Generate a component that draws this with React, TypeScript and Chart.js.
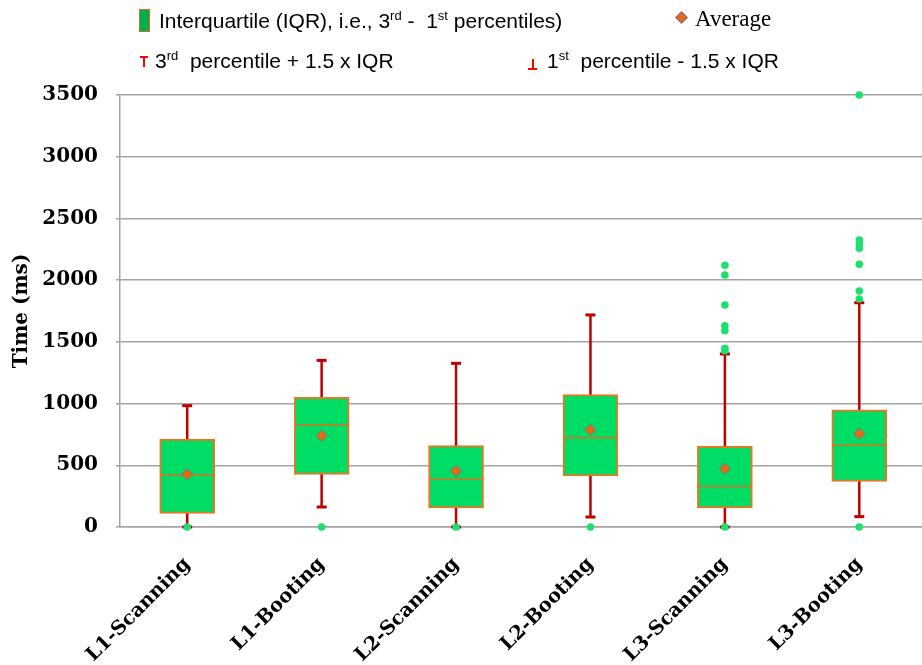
import React, { useEffect, useRef } from 'react';
import { Chart, registerables } from 'chart.js';

Chart.register(...registerables);

// ---------- data ----------
const categories = ['L1-Scanning', 'L1-Booting', 'L2-Scanning', 'L2-Booting', 'L3-Scanning', 'L3-Booting'];
const q1 = [111, 427, 154, 413, 154, 370];
const q3 = [713, 1051, 659, 1072, 654, 950];
const medians = [419, 829, 386, 723, 330, 662];
const averages = [427, 740, 454, 788, 472, 756];
const whiskerLow = [0, 162, 0, 81, 0, 84];
const whiskerHigh = [983, 1350, 1326, 1718, 1402, 1817];
const outliersL1Scanning = [0];
const outliersL1Booting = [0];
const outliersL2Scanning = [0];
const outliersL2Booting = [0];
const outliersL3Scanning = [0, 1428, 1448, 1590, 1631, 1799, 2042, 2120];
const outliersL3Booting = [0, 1847, 1912, 2128, 2258, 2293, 2325, 3500];
const outlierLists = [
  outliersL1Scanning, outliersL1Booting, outliersL2Scanning,
  outliersL2Booting, outliersL3Scanning, outliersL3Booting,
];
const yTicks = [0, 500, 1000, 1500, 2000, 2500, 3000, 3500];

// ---------- styles ----------
const BOX_FILL = '#00DD64';
const BOX_BORDER = '#E87722';
const WHISKER = '#C00000';
const MEDIAN = '#E07020';
const AVG_FILL = '#E46C0A';
const AVG_BORDER = '#7F6A9A';
const OUTLIER = '#1EE070';
const GRID = '#A3A3A3';
const SERIF_BOLD = "'DejaVu Serif', serif";

const boxExtras = {
  id: 'boxExtras',
  beforeDatasetsDraw(chart: any) {
    const { ctx, scales } = chart;
    const x = scales.x;
    const y = scales.y;
    ctx.save();
    ctx.strokeStyle = WHISKER;
    ctx.fillStyle = WHISKER;
    ctx.lineWidth = 2.5;
    categories.forEach((_, i) => {
      const cx = x.getPixelForValue(i);
      const yLo = y.getPixelForValue(whiskerLow[i]);
      const yHi = y.getPixelForValue(whiskerHigh[i]);
      ctx.beginPath();
      ctx.moveTo(cx, yLo);
      ctx.lineTo(cx, yHi);
      ctx.stroke();
      ctx.fillRect(cx - 5, yHi - 1.5, 10, 3);
      ctx.fillRect(cx - 5, yLo - 1.5, 10, 3);
    });
    ctx.restore();
  },
  afterDatasetDraw(chart: any, args: any) {
    if (args.index !== 0) return;
    const { ctx, scales } = chart;
    const y = scales.y;
    const meta = chart.getDatasetMeta(0);
    ctx.save();
    ctx.strokeStyle = MEDIAN;
    ctx.lineWidth = 1.5;
    meta.data.forEach((bar: any, i: number) => {
      const py = y.getPixelForValue(medians[i]);
      const half = bar.width / 2 - 1;
      ctx.beginPath();
      ctx.moveTo(bar.x - half, py);
      ctx.lineTo(bar.x + half, py);
      ctx.stroke();
    });
    ctx.restore();
  },
};

const supStyle: React.CSSProperties = {
  fontSize: '13px',
  position: 'relative',
  top: '-8px',
  verticalAlign: 'baseline',
};

const legendText: React.CSSProperties = {
  position: 'absolute',
  fontFamily: "'Liberation Sans', Arial, sans-serif",
  fontSize: '21px',
  lineHeight: '24px',
  whiteSpace: 'pre',
  color: '#000',
};

export default function App() {
  const ref = useRef<HTMLCanvasElement | null>(null);

  useEffect(() => {
    if (!ref.current) return;
    const outlierPoints: { x: string; y: number }[] = [];
    outlierLists.forEach((list, i) => list.forEach((v) => outlierPoints.push({ x: categories[i], y: v })));

    const chart = new Chart(ref.current, {
      type: 'bar',
      data: {
        labels: categories,
        datasets: [
          {
            type: 'bar',
            label: 'Interquartile',
            data: categories.map((_, i) => [q1[i], q3[i]]) as any,
            backgroundColor: BOX_FILL,
            borderColor: BOX_BORDER,
            borderWidth: 2,
            borderSkipped: false,
            barThickness: 55,
            order: 3,
          } as any,
          {
            type: 'line',
            label: 'Average',
            data: averages,
            showLine: false,
            pointStyle: 'rectRot',
            pointRadius: 5.5,
            pointBackgroundColor: AVG_FILL,
            pointBorderColor: AVG_BORDER,
            pointBorderWidth: 1,
            order: 1,
            clip: false,
          } as any,
          {
            type: 'line',
            label: 'Outliers',
            data: outlierPoints as any,
            showLine: false,
            pointStyle: 'circle',
            pointRadius: 3.8,
            pointBackgroundColor: OUTLIER,
            pointBorderColor: OUTLIER,
            pointBorderWidth: 0,
            order: 2,
            clip: false,
          } as any,
        ],
      },
      options: {
        animation: false,
        responsive: false,
        maintainAspectRatio: false,
        devicePixelRatio: 1,
        layout: { padding: { top: 95, left: 0, right: 0, bottom: 0 } },
        plugins: {
          legend: { display: false },
          tooltip: { enabled: false },
        },
        scales: {
          x: {
            type: 'category',
            offset: true,
            grid: { display: false, drawTicks: false },
            border: { display: true, color: GRID, width: 1.5 },
            ticks: {
              color: '#000',
              font: { family: SERIF_BOLD, size: 19.5, weight: 'bold' },
              minRotation: 45,
              maxRotation: 45,
              padding: 26,
              autoSkip: false,
            },
            afterFit: (scale: any) => {
              scale.height = 138;
            },
          },
          y: {
            min: 0,
            max: 3500,
            afterBuildTicks: (scale: any) => {
              scale.ticks = yTicks.map((v) => ({ value: v }));
            },
            grid: { color: GRID, lineWidth: 1.5, drawTicks: true, tickLength: 4, tickColor: GRID },
            border: { display: true, color: GRID, width: 1.5 },
            ticks: {
              color: '#000',
              font: { family: SERIF_BOLD, size: 20, weight: 'bold' },
              padding: 18,
              callback: (v: any) => String(v),
            },
            title: {
              display: true,
              text: 'Time (ms)',
              color: '#000',
              font: { family: SERIF_BOLD, size: 20, weight: 'bold' },
              padding: { top: 10, bottom: 0 },
            },
            afterFit: (scale: any) => {
              scale.width = 120;
            },
          },
        },
      } as any,
      plugins: [boxExtras],
    });
    return () => chart.destroy();
  }, []);

  return (
    <div
      style={{
        position: 'absolute',
        left: 0,
        top: 0,
        width: 922,
        height: 665,
        overflow: 'hidden',
        background: '#fff',
      }}
    >
      <canvas ref={ref} width={933} height={665} style={{ position: 'absolute', left: 0, top: 0, width: 933, height: 665 }} />
      {/* legend row 1 */}
      <div
        style={{
          position: 'absolute', left: 139, top: 9, width: 11, height: 23,
          background: '#00B050', border: '1px solid #E46C0A', boxSizing: 'border-box',
        }}
      />
      <div style={{ ...legendText, left: 159, top: 9 }}>
        Interquartile (IQR), i.e., 3<span style={supStyle}>rd</span>{' -  1'}<span style={supStyle}>st</span> percentiles)
      </div>
      <div
        style={{
          position: 'absolute', left: 677, top: 13, width: 7, height: 7,
          background: AVG_FILL, border: '1px solid ' + AVG_BORDER, transform: 'rotate(45deg)',
        }}
      />
      <div style={{ ...legendText, left: 695, top: 7, fontFamily: "'Liberation Serif', serif", fontSize: '23px' }}>
        Average
      </div>
      {/* legend row 2 */}
      <div style={{ position: 'absolute', left: 140, top: 56, width: 8, height: 2, background: '#FF0000' }} />
      <div style={{ position: 'absolute', left: 143, top: 56, width: 2, height: 11, background: '#FF0000' }} />
      <div style={{ ...legendText, left: 155, top: 49 }}>
        3<span style={supStyle}>rd</span>{'  percentile + 1.5 x IQR'}
      </div>
      <div style={{ position: 'absolute', left: 532, top: 59, width: 2, height: 10, background: '#FF0000' }} />
      <div style={{ position: 'absolute', left: 528, top: 68, width: 9, height: 2, background: '#FF0000' }} />
      <div style={{ ...legendText, left: 547, top: 49 }}>
        1<span style={supStyle}>st</span>{'  percentile - 1.5 x IQR'}
      </div>
    </div>
  );
}
